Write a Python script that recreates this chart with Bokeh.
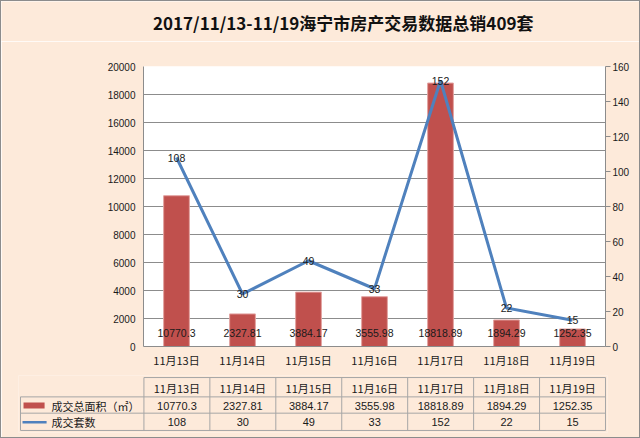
from bokeh.plotting import figure
from bokeh.models import (ColumnDataSource, Range1d, LinearAxis, LabelSet, FixedTicker)
from bokeh.layouts import column
from bokeh.embed import file_html
from bokeh.resources import INLINE
from bokeh.core.properties import value

# ---------------- data ----------------
title = "2017/11/13-11/19海宁市房产交易数据总销409套"
dates = ["11月13日", "11月14日", "11月15日", "11月16日", "11月17日", "11月18日", "11月19日"]
area = [10770.3, 2327.81, 3884.17, 3555.98, 18818.89, 1894.29, 1252.35]
count = [108, 30, 49, 33, 152, 22, 15]
series_names = ["成交总面积（㎡）", "成交套数"]
left_ticks = [0, 2000, 4000, 6000, 8000, 10000, 12000, 14000, 16000, 18000, 20000]
right_ticks = [0, 20, 40, 60, 80, 100, 120, 140, 160]

# ---------------- style ----------------
BG = "#FDEADA"
BAR = "#C0504D"
LINE = "#4F81BD"
GRID = "#8C8C8C"
EDGE = "1px solid #8C8C8C"
TXT = "#1a1a1a"
CJK = "Noto Sans CJK SC"
NUM = "Liberation Sans"
W = 640

# ---------------- title strip ----------------
T = figure(width=W, height=41, x_range=Range1d(0, W - 2), y_range=Range1d(40, 0),
           output_backend="svg", toolbar_location=None, x_axis_type=None, y_axis_type=None,
           min_border=0, background_fill_color=BG, border_fill_color=BG, outline_line_color=None,
           styles={"border-top": EDGE, "border-left": EDGE, "border-right": EDGE})
T.grid.visible = False
T.text(x=[151], y=[20], text=[title], text_align="left", text_baseline="middle",
       text_font=value(CJK), text_font_style="bold", text_font_size="17px", text_color="#111111")

# ---------------- chart ----------------
src = ColumnDataSource(dict(
    date=dates, area=area, count=count,
    area_txt=[str(a) for a in area],
    count_txt=[str(c) for c in count],
))

p = figure(x_range=dates, y_range=Range1d(0, left_ticks[-1]), width=W, height=329, title=None,
           output_backend="svg", toolbar_location=None,
           min_border_left=142, min_border_right=36, min_border_top=25, min_border_bottom=23,
           background_fill_color="white", border_fill_color=BG, outline_line_color=None,
           styles={"border-left": EDGE, "border-right": EDGE})
p.extra_y_ranges = {"cnt": Range1d(0, right_ticks[-1])}

p.vbar(x="date", top="area", width=0.39, source=src, fill_color=BAR,
       line_color="#E3A3A1", line_width=1)
p.line(x="date", y="count", y_range_name="cnt", source=src, line_width=3, color=LINE)

p.yaxis.ticker = FixedTicker(ticks=left_ticks)
p.ygrid.ticker = FixedTicker(ticks=left_ticks)
p.ygrid.grid_line_color = GRID
p.xgrid.grid_line_color = None
ax = p.yaxis[0]
ax.major_tick_out = 0
ax.major_tick_in = 0
ax.minor_tick_out = 0
ax.minor_tick_in = 0
ax.axis_line_color = GRID
ax.major_label_standoff = 8
ax.major_label_text_font = NUM
ax.major_label_text_font_size = "10px"
ax.major_label_text_color = TXT

ra = LinearAxis(y_range_name="cnt", ticker=FixedTicker(ticks=right_ticks))
ra.major_tick_out = 5
ra.major_tick_in = 0
ra.minor_tick_out = 0
ra.minor_tick_in = 0
ra.axis_line_color = GRID
ra.major_tick_line_color = GRID
ra.major_label_standoff = 2
ra.major_label_text_font = NUM
ra.major_label_text_font_size = "10px"
ra.major_label_text_color = TXT
p.add_layout(ra, "right")

xa = p.xaxis[0]
xa.major_tick_out = 0
xa.major_tick_in = 0
xa.axis_line_color = GRID
xa.major_label_standoff = 5
xa.major_label_text_font = CJK
xa.major_label_text_font_size = "11px"
xa.major_label_text_color = TXT

p.add_layout(LabelSet(x="date", y=0, text="area_txt", source=src, y_offset=14,
                      text_align="center", text_baseline="middle",
                      text_font=value(NUM), text_font_size="10.5px", text_color=TXT))
p.add_layout(LabelSet(x="date", y="count", y_range_name="cnt", text="count_txt", source=src,
                      text_align="center", text_baseline="middle",
                      text_font=value(NUM), text_font_size="10.5px", text_color=TXT))

# ---------------- data table ----------------
n = len(dates)
CW = 460 / n                      # pixel width of one category
def ux(px):                       # page-x pixel -> table x units
    return (px - 143) / CW

t = figure(x_range=Range1d(ux(18), ux(605)), y_range=Range1d(54, -2), width=W, height=69,
           output_backend="svg", toolbar_location=None, x_axis_type=None, y_axis_type=None,
           min_border_left=17, min_border_right=34, min_border_top=6, min_border_bottom=6,
           background_fill_color=BG, border_fill_color=BG, outline_line_color=None,
           styles={"border-bottom": EDGE, "border-left": EDGE, "border-right": EDGE})
t.grid.visible = False

rows = [0, 19, 35, 52]
leg_left = ux(20)
TG = "#A6A6A6"
t.segment(x0=[0, leg_left, leg_left, leg_left], y0=rows, x1=[n] * 4, y1=rows,
          line_color=TG, line_width=1)
t.segment(x0=list(range(n + 1)) + [leg_left], y0=[0] * (n + 1) + [rows[1]],
          x1=list(range(n + 1)) + [leg_left], y1=[rows[3]] * (n + 2),
          line_color=TG, line_width=1)

centers = [i + 0.5 for i in range(n)]
tsrc = ColumnDataSource(dict(x=centers, date=dates,
                             area_txt=[str(a) for a in area],
                             count_txt=[str(c) for c in count]))
for col, yy, font in (("date", 10, CJK), ("area_txt", 27.5, NUM), ("count_txt", 44, NUM)):
    t.text(x="x", y=yy, text=col, source=tsrc, text_align="center", text_baseline="middle",
           text_font=value(font), text_font_size="11px", text_color=TXT)

t.quad(left=[ux(23)], right=[ux(44)], top=[24.5], bottom=[30.5], fill_color=BAR, line_color=None)
t.segment(x0=[ux(22)], y0=[44], x1=[ux(46)], y1=[44], line_color=LINE, line_width=2.5)
t.text(x=[ux(51)] * 2, y=[27.5, 44], text=series_names, text_align="left",
       text_baseline="middle", text_font=value(CJK), text_font_size="11px", text_color=TXT)

layout = column(column(T), column(p), column(t, styles={"margin-top": "-1px"}))
open("out.html", "w").write(file_html(layout, INLINE))
